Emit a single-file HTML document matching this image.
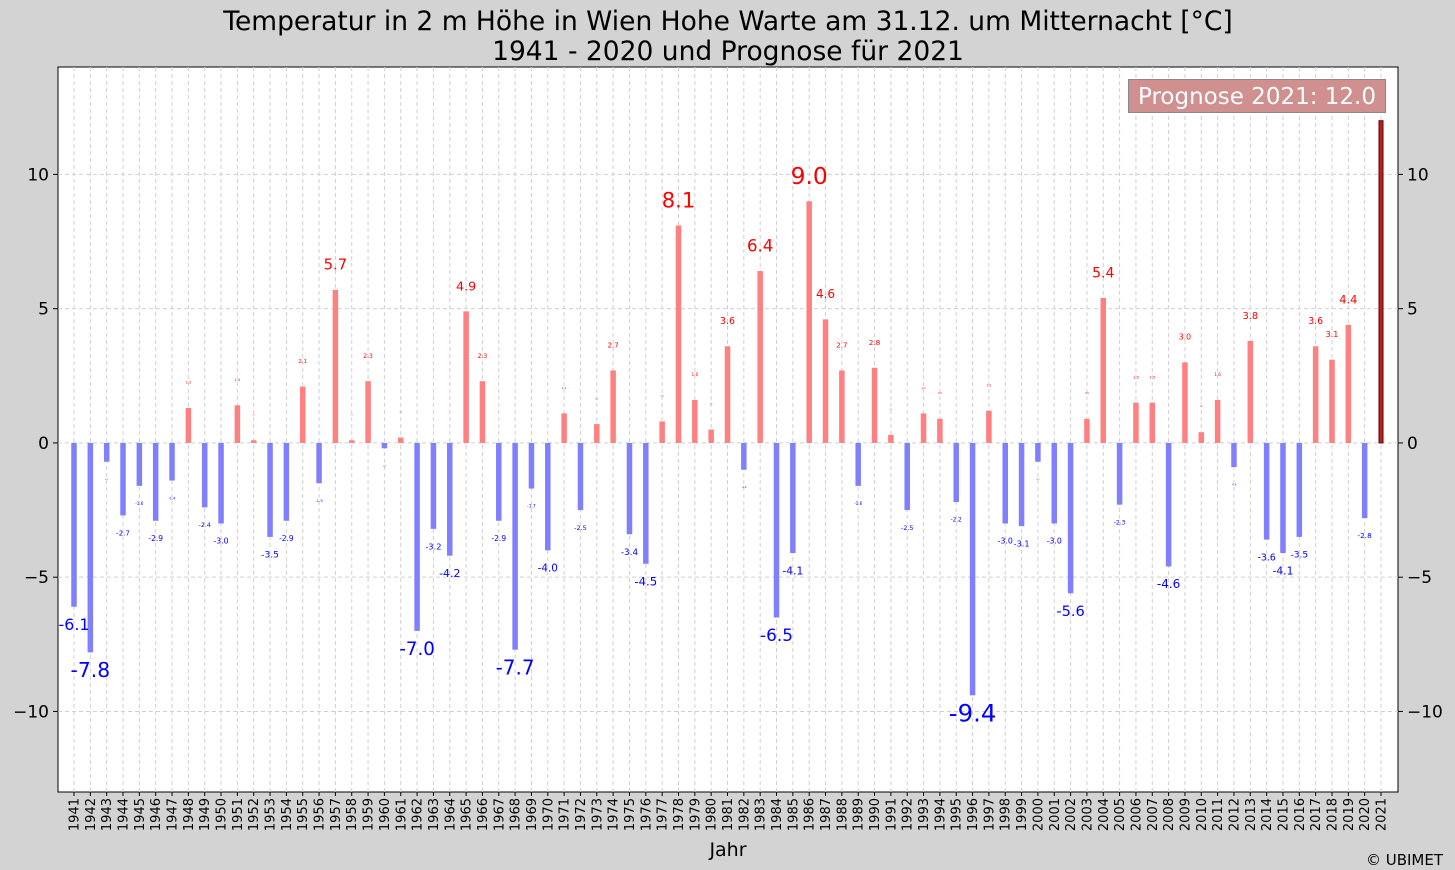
<!DOCTYPE html>
<html><head><meta charset="utf-8">
<style>
html,body{margin:0;padding:0;background:#d3d3d3;}
svg{display:block;font-family:"DejaVu Sans","Liberation Sans",sans-serif;}
</style></head>
<body>
<svg id="chart" width="1455" height="870" xmlns="http://www.w3.org/2000/svg">
<rect x="0" y="0" width="1455" height="870" fill="#d3d3d3"/>
<text x="728" y="30" text-anchor="middle" font-size="26.5" fill="#000">Temperatur in 2 m Höhe in Wien Hohe Warte am 31.12. um Mitternacht [°C]</text>
<text x="728" y="60" text-anchor="middle" font-size="26.5" fill="#000">1941 - 2020 und Prognose für 2021</text>
<rect x="58" y="67" width="1340" height="725" fill="#fff" stroke="#000" stroke-width="1"/>
<g id="grid"></g>
<g id="bars"></g>
<g id="labels"></g>
<g id="axes"></g>
<rect x="1128.5" y="79.5" width="257" height="33" fill="#d09090" stroke="#888" stroke-width="1"/>
<text x="1257" y="104" text-anchor="middle" font-size="23" fill="#fff">Prognose 2021: 12.0</text>
<text x="728" y="856" text-anchor="middle" font-size="19" fill="#000">Jahr</text>
<text x="1443" y="865" text-anchor="end" font-size="15" fill="#000">© UBIMET</text>
</svg>
<script>
const years = [];
for (let y = 1941; y <= 2021; y++) years.push(y);
const temps = [-6.1,-7.8,-0.7,-2.7,-1.6,-2.9,-1.4,1.3,-2.4,-3.0,
1.4,0.1,-3.5,-2.9,2.1,-1.5,5.7,0.1,2.3,-0.2,
0.2,-7.0,-3.2,-4.2,4.9,2.3,-2.9,-7.7,-1.7,-4.0,
1.1,-2.5,0.7,2.7,-3.4,-4.5,0.8,8.1,1.6,0.5,
3.6,-1.0,6.4,-6.5,-4.1,9.0,4.6,2.7,-1.6,2.8,
0.3,-2.5,1.1,0.9,-2.2,-9.4,1.2,-3.0,-3.1,-0.7,
-3.0,-5.6,0.9,5.4,-2.3,1.5,1.5,-4.6,3.0,0.4,
1.6,-0.9,3.8,-3.6,-4.1,-3.5,3.6,3.1,4.4,-2.8,
12.0];
const yTicks = [-10,-5,0,5,10];
const gridY = [-10,-5,0,5,10];

const NS = "http://www.w3.org/2000/svg";
const L = 58, R = 1398, T = 67, B = 792;
const yMin = -13.0, yMax = 14.0;
function sy(v){ return B - (v - yMin) / (yMax - yMin) * (B - T); }
function sx(yr){ return 74 + (yr - 1941) * (1381 - 74) / 80; }
function mk(tag, attrs, parent){ const e = document.createElementNS(NS, tag); for (const k in attrs) e.setAttribute(k, attrs[k]); parent.appendChild(e); return e; }

const grid = document.getElementById('grid');
years.forEach(yr => {
  const l = mk('line', {x1: sx(yr), x2: sx(yr), y1: T, y2: B, stroke: '#d0d0d0', 'stroke-dasharray': '4,3', 'stroke-width': 1}, grid);
  
  
});
gridY.forEach(v => {
  const l = mk('line', {x1: L, x2: R, y1: sy(v), y2: sy(v), stroke: '#d0d0d0', 'stroke-dasharray': '4,3', 'stroke-width': 1}, grid);
  
  
});

const bars = document.getElementById('bars');
const labels = document.getElementById('labels');
years.forEach((yr, i) => {
  const v = temps[i];
  const y0 = sy(0), y1 = sy(v);
  const isF = yr === 2021;
  const w = isF ? 4 : 5.5;
  const r = mk('rect', {x: sx(yr) - w/2, y: Math.min(y0, y1), width: w, height: Math.abs(y1 - y0),
    fill: isF ? '#b22222' : (v >= 0 ? '#ff8080' : '#8080ff'), stroke: isF ? '#600' : 'none', 'stroke-width': isF ? 1 : 0}, bars);
  
  
  if (!isF) {
    const fs = Math.max(1.5, Math.abs(v) * 2.6);
    const ly = sy(v >= 0 ? v + 0.95 : v - 0.65);
    const t = mk('text', {x: sx(yr), y: ly + fs * 0.36, 'text-anchor': 'middle', 'font-size': fs.toFixed(1), fill: v >= 0 ? '#ff0000' : '#0000ff'}, labels);
    t.textContent = v.toFixed(1);
    
    
  }
});

const axes = document.getElementById('axes');
yTicks.forEach(v => {
  const y = sy(v);
  mk('line', {x1: L - 5, x2: L, y1: y, y2: y, stroke: '#000'}, axes);
  mk('line', {x1: R, x2: R + 5, y1: y, y2: y, stroke: '#000'}, axes);
  const txt = v < 0 ? '\u2212' + Math.abs(v) : String(v);
  const a = mk('text', {x: L - 9, y: y + 6, 'text-anchor': 'end', 'font-size': 17}, axes);
  a.textContent = txt;
  
  
  const b = mk('text', {x: R + 9, y: y + 6, 'text-anchor': 'start', 'font-size': 17}, axes);
  b.textContent = txt;
  
  
});
years.forEach(yr => {
  const x = sx(yr);
  mk('line', {x1: x, x2: x, y1: B, y2: B + 4, stroke: '#000'}, axes);
  const t = mk('text', {x: 0, y: 0, 'text-anchor': 'end', 'font-size': 13, transform: `translate(${x + 4.5},${B + 6}) rotate(-90)`}, axes);
  t.textContent = yr;
  
  
});
</script>
</body></html>
